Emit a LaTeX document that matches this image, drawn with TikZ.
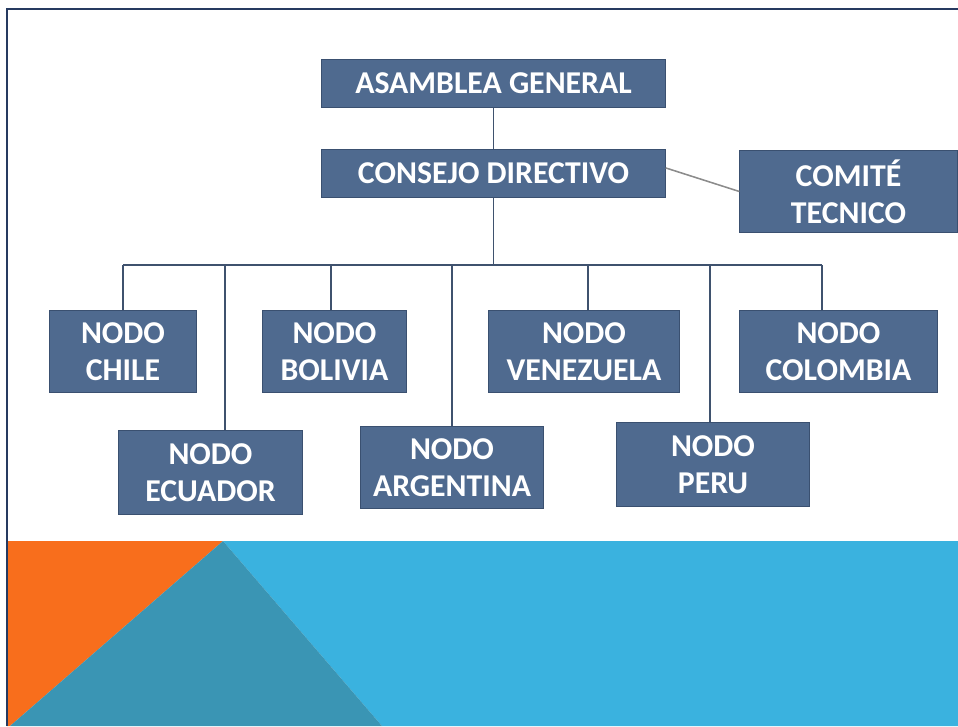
\documentclass[tikz,border=0pt]{standalone}
\usepackage{fontspec}
\setmainfont{Carlito}
\usetikzlibrary{calc}
\definecolor{BoxBlue}{RGB}{79,106,143}
\definecolor{BoxEdge}{RGB}{58,80,112}
\definecolor{LinkSlate}{RGB}{63,82,110}
\definecolor{LinkGray}{RGB}{140,140,140}
\definecolor{FrameNavy}{RGB}{38,58,96}
\definecolor{SkyBand}{RGB}{58,178,223}
\definecolor{OrangeBand}{RGB}{248,110,28}
\definecolor{TealBand}{RGB}{58,149,180}
\tikzset{
  unit/.style={draw=BoxEdge,fill=BoxBlue,text=white,line width=0.7pt,
    inner sep=0pt,align=center,
    font=\bfseries\fontsize{22.6}{26.3}\selectfont},
  wide/.style={unit,minimum width=8.58cm,minimum height=1.18cm},
  link/.style={draw=LinkSlate,line width=1.1pt},
  sidelink/.style={draw=LinkGray,line width=1.1pt}
}

\begin{document}
\begin{tikzpicture}[x=0.025cm,y=-0.025cm]
  \useasboundingbox (0,0) rectangle (958,726);

  % bottom band of the slide
  \fill[SkyBand] (223,541) -- (958,541) -- (958,726) -- (382,726) -- cycle;
  \fill[OrangeBand] (7,541) -- (223,541) -- (10,726) -- (7,726) -- cycle;
  \fill[TealBand] (223,541) -- (382,726) -- (10,726) -- cycle;
  \draw[FrameNavy,line width=1.4pt] (7,726) -- (7,9) -- (958,9);

  % upper levels
  \node[wide] (asamblea) at (493.5,83.5) {ASAMBLEA GENERAL};
  \node[wide] (consejo) at (493.5,173.5) {CONSEJO DIRECTIVO};
  \node[unit,minimum width=5.43cm,minimum height=2.03cm] (comite)
    at (848.5,191.5) {COMITÉ\\TECNICO};

  % nodes, first row
  \node[unit,minimum width=3.65cm,minimum height=2.03cm] (chile)
    at (123,351.5) {NODO\\CHILE};
  \node[unit,minimum width=3.58cm,minimum height=2.03cm] (bolivia)
    at (334.5,351.5) {NODO\\BOLIVIA};
  \node[unit,minimum width=4.75cm,minimum height=2.03cm] (venezuela)
    at (584,351.5) {NODO\\VENEZUELA};
  \node[unit,minimum width=4.93cm,minimum height=2.03cm] (colombia)
    at (838.5,351.5) {NODO\\COLOMBIA};

  % nodes, second row
  \node[unit,minimum width=4.58cm,minimum height=2.08cm] (ecuador)
    at (210.5,472.5) {NODO\\ECUADOR};
  \node[unit,minimum width=4.55cm,minimum height=2.03cm] (argentina)
    at (452,467.5) {NODO\\ARGENTINA};
  \node[unit,minimum width=4.8cm,minimum height=2.08cm] (peru)
    at (713,464.5) {NODO\\PERU};

  % connectors
  \coordinate (busW) at (123,265);
  \coordinate (busE) at (822,265);
  \draw[link] (asamblea) -- (consejo);
  \draw[link] (consejo.south) -- (consejo.south |- busW);
  \draw[link] (busW) -- (busE);
  \foreach \n/\s in {chile/0,ecuador/14.5,bolivia/-3.5,argentina/0,
                     venezuela/4,peru/-3,colombia/-16.5}
    \draw[link] ($(\n.north |- busW)+(\s,0)$) -- ($(\n.north)+(\s,0)$);
  \draw[sidelink] ([yshift=0.14cm]consejo.east) -- (comite.west);
\end{tikzpicture}
\end{document}
